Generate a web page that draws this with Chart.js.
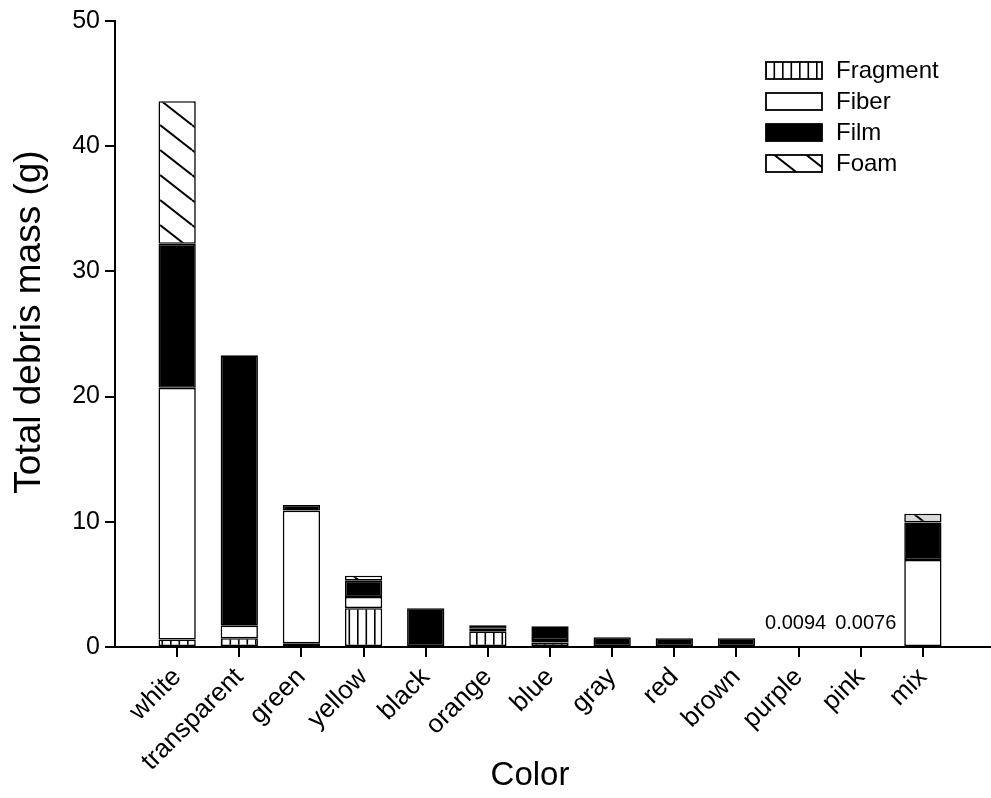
<!DOCTYPE html>
<html>
<head>
<meta charset="utf-8">
<script src="https://cdn.jsdelivr.net/npm/chart.js@4.4.1/dist/chart.umd.min.js"></script>
<style>
  html, body { margin: 0; padding: 0; background: #fff; }
  #wrap { width: 991px; height: 798px; }
</style>
</head>
<body>
<div id="wrap"><canvas id="c" width="991" height="798"></canvas></div>
<script>
// ---- Data ----
const categories = ['white','transparent','green','yellow','black','orange','blue','gray','red','brown','purple','pink','mix'];
const fragment = [0.6, 0.7, 0.3, 3.1, 0, 1.25, 0.35, 0, 0, 0, 0.0094, 0.0076, 0];
const fiber    = [20.1, 1.0, 10.6, 0.9, 0, 0.2, 0.2, 0, 0, 0, 0, 0, 6.95];
const film     = [11.5, 21.6, 0.45, 1.3, 3.1, 0.28, 1.1, 0.78, 0.7, 0.7, 0, 0, 3.0];
const foam     = [11.4, 0, 0, 0.4, 0, 0, 0, 0, 0, 0, 0, 0, 0.7];
const seriesNames = ['Fragment', 'Fiber', 'Film', 'Foam'];
const annotatedIdx = [10, 11];
const annotatedText = ['0.0094', '0.0076'];
const yTicks = [0, 10, 20, 30, 40, 50];
const xTitle = 'Color';
const yTitle = 'Total debris mass (g)';

const FONT = "'Liberation Sans', Arial, Helvetica, sans-serif";
Chart.defaults.font.family = FONT;
Chart.defaults.color = '#000';

const ctx = document.getElementById('c').getContext('2d');

function fragmentPattern() {
  const c = document.createElement('canvas'); c.width = 17; c.height = 10;
  const g = c.getContext('2d');
  g.fillStyle = '#fff'; g.fillRect(0, 0, 17, 10);
  g.fillStyle = '#000'; g.fillRect(0, 0, 1.6, 10); g.fillRect(8.5, 0, 1.6, 10);
  return ctx.createPattern(c, 'repeat');
}
function foamPattern(bg) {
  const w = 32, h = 25;
  const c = document.createElement('canvas'); c.width = w; c.height = h;
  const g = c.getContext('2d');
  g.fillStyle = bg; g.fillRect(0, 0, w, h);
  g.strokeStyle = '#000'; g.lineWidth = 2;
  g.beginPath();
  for (let k = -1; k <= 1; k++) { g.moveTo(0, k * h); g.lineTo(w, h + k * h); }
  g.stroke();
  return ctx.createPattern(c, 'repeat');
}
const fragPat = fragmentPattern();
const foamWhite = foamPattern('#ffffff');
const foamGray = foamPattern('#d9d9d9');
const foamColors = categories.map(c => c === 'mix' ? foamGray : foamWhite);

const toXY = arr => arr.map((v, i) => ({x: i, y: v}));
const common = { borderColor: '#000', borderWidth: 1.6, borderSkipped: false, categoryPercentage: 1, barPercentage: 0.6 };

const legendPlugin = {
  id: 'boxLegend',
  afterDraw(chart) {
    const c = chart.ctx;
    const fills = [fragPat, '#ffffff', '#000000', foamWhite];
    const rows = [70.5, 101.5, 132.5, 163.5];
    c.save();
    c.font = '24px ' + FONT;
    c.textBaseline = 'middle';
    c.textAlign = 'left';
    seriesNames.forEach((name, i) => {
      const x = 766, w = 56, h = 17, y = rows[i] - h / 2;
      c.fillStyle = fills[i];
      c.fillRect(x, y, w, h);
      c.lineWidth = 1.8; c.strokeStyle = '#000';
      c.strokeRect(x, y, w, h);
      c.fillStyle = '#000';
      c.fillText(name, 836, rows[i] + 1);
    });
    const xs = chart.scales.x, ys = chart.scales.y;
    // small-value annotations
    c.font = '20px ' + FONT;
    c.textAlign = 'center';
    c.textBaseline = 'bottom';
    annotatedIdx.forEach((idx, k) => {
      c.fillText(annotatedText[k], xs.getPixelForValue(idx) - (k === 0 ? 3 : -5), ys.getPixelForValue(0) - 14);
    });
    // axis titles
    c.font = '33px ' + FONT;
    c.textBaseline = 'middle';
    c.fillText(xTitle, 530, 776);
    c.save();
    c.translate(30, 322);
    c.rotate(-Math.PI / 2);
    c.font = '37px ' + FONT;
    c.fillText(yTitle, 0, 0);
    c.restore();
    c.restore();
  }
};

new Chart(ctx, {
  type: 'bar',
  data: {
    datasets: [
      Object.assign({ label: seriesNames[0], data: toXY(fragment), backgroundColor: fragPat }, common),
      Object.assign({ label: seriesNames[1], data: toXY(fiber), backgroundColor: '#ffffff' }, common),
      Object.assign({ label: seriesNames[2], data: toXY(film), backgroundColor: '#000000' }, common),
      Object.assign({ label: seriesNames[3], data: toXY(foam), backgroundColor: foamColors }, common)
    ]
  },
  options: {
    responsive: false,
    animation: false,
    layout: { padding: { top: 21, right: 1, left: 0, bottom: 0 } },
    plugins: { legend: { display: false }, tooltip: { enabled: false } },
    scales: {
      x: {
        type: 'linear',
        stacked: true,
        min: -1, max: 13.08,
        offset: false,
        afterBuildTicks: s => { s.ticks = categories.map((_, i) => ({ value: i })); },
        afterFit: s => { s.height = 151; },
        grid: { offset: false, drawOnChartArea: false, drawTicks: true, tickLength: 10, color: '#000', lineWidth: 2 },
        border: { display: true, color: '#000', width: 2 },
        ticks: {
          autoSkip: false, minRotation: 45, maxRotation: 45, padding: 5,
          font: { size: 26 }, color: '#000',
          callback: v => categories[v] !== undefined && Number.isInteger(v) ? categories[v] : ''
        },
        title: { display: false, text: xTitle }
      },
      y: {
        stacked: true,
        min: 0, max: 50,
        afterBuildTicks: s => { s.ticks = yTicks.map(v => ({ value: v })); },
        afterFit: s => { s.width = 115; },
        grid: { drawOnChartArea: false, drawTicks: true, tickLength: 10, color: '#000', lineWidth: 2 },
        border: { display: true, color: '#000', width: 2 },
        ticks: { padding: 5, font: { size: 25 }, color: '#000' },
        title: { display: false, text: yTitle }
      }
    }
  },
  plugins: [legendPlugin]
});
</script>
</body>
</html>
